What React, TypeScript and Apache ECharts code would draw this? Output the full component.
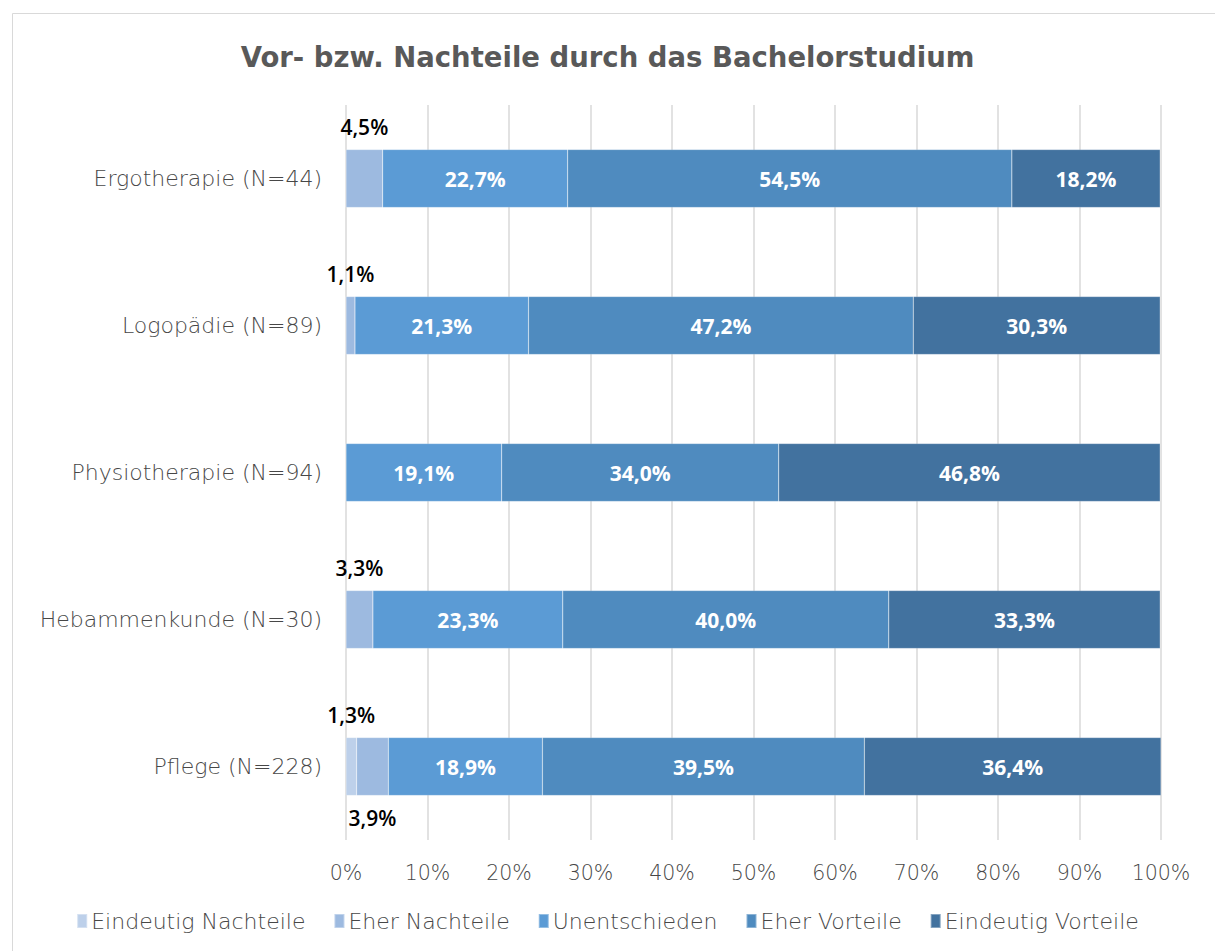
import React, { useEffect, useRef } from "react";
import * as echarts from "echarts";

const categories = [
  "Ergotherapie (N=44)",
  "Logopädie (N=89)",
  "Physiotherapie (N=94)",
  "Hebammenkunde (N=30)",
  "Pflege (N=228)",
];
const seriesNames = [
  "Eindeutig Nachteile",
  "Eher Nachteile",
  "Unentschieden",
  "Eher Vorteile",
  "Eindeutig Vorteile",
];
const eindeutigNachteile = [0, 0, 0, 0, 1.3];
const eherNachteile = [4.5, 1.1, 0, 3.3, 3.9];
const unentschieden = [22.7, 21.3, 19.1, 23.3, 18.9];
const eherVorteile = [54.5, 47.2, 34.0, 40.0, 39.5];
const eindeutigVorteile = [18.2, 30.3, 46.8, 33.3, 36.4];
const colors = ["#BDD0EA", "#9DBAE0", "#5B9BD5", "#4F8BBF", "#42729F"];
// positions of the small outside labels per series (top/bottom)
const smallLabelPos: Record<number, string[]> = {
  0: ["top", "top", "top", "top", "top"],
  1: ["top", "top", "top", "top", "bottom"],
};

const fmt = (v: number) => v.toFixed(1).replace(".", ",") + "%";
const FONT = "'DejaVu Sans', sans-serif";
const LFONT = "'Open Sans', sans-serif";
const TXT = "#474747";

export default function App() {
  const ref = useRef<HTMLDivElement>(null);
  useEffect(() => {
    if (!ref.current) return;
    const chart = echarts.init(ref.current, null, { renderer: "svg" });
    const all = [eindeutigNachteile, eherNachteile, unentschieden, eherVorteile, eindeutigVorteile];
    const series = all.map((arr, si) => {
      const small = si <= 1;
      return {
        name: seriesNames[si],
        type: "bar",
        stack: "total",
        barWidth: 58,
        itemStyle: { color: colors[si], borderColor: "rgba(255,255,255,0.35)", borderWidth: 0.5 },
        data: arr.map((v, i) => ({
          value: v,
          label: {
            show: v > 0,
            position: small ? smallLabelPos[si][i] : "inside",
            distance: 12,
            color: small ? "#000000" : "#ffffff",
            fontWeight: small ? 600 : "bold",
            fontSize: 21,
            fontFamily: LFONT,
            formatter: () => fmt(v),
          },
        })),
      };
    });
    chart.setOption({
      animation: false,
      backgroundColor: "#ffffff",
      title: {
        text: "Vor- bzw. Nachteile durch das Bachelorstudium",
        left: "center",
        top: 38,
        textStyle: { color: "#595959", fontSize: 27.5, fontWeight: "bold", fontFamily: FONT },
      },
      graphic: [
        {
          type: "rect",
          shape: { x: 12.5, y: 13.5, width: 1215, height: 960 },
          style: { fill: "none", stroke: "#d9d9d9", lineWidth: 1 },
          silent: true,
        },
      ],
      legend: {
        bottom: 14,
        left: "center",
        itemWidth: 10,
        itemHeight: 14,
        itemGap: 28,
        icon: "rect",
        textStyle: { color: TXT, fontSize: 22, fontWeight: 200, fontFamily: FONT, padding: [0, 0, 0, -1] },
        data: seriesNames,
      },
      grid: { left: 346, right: 54, top: 105, bottom: 111, containLabel: false },
      xAxis: {
        type: "value",
        min: 0,
        max: 100,
        interval: 10,
        axisLabel: { formatter: "{value}%", color: TXT, fontSize: 20.5, fontWeight: 200, fontFamily: FONT, margin: 22 },
        splitLine: { show: true, lineStyle: { color: "#d9d9d9", width: 1.5 } },
        axisLine: { show: false },
        axisTick: { show: false },
      },
      yAxis: {
        type: "category",
        inverse: true,
        data: categories,
        axisLabel: { color: TXT, fontSize: 22, fontWeight: 200, fontFamily: FONT, margin: 24 },
        axisLine: { show: false },
        axisTick: { show: false },
      },
      series,
    });
    return () => chart.dispose();
  }, []);
  return (
    <div
      ref={ref}
      style={{ position: "fixed", left: 0, top: 0, width: 1215, height: 951 }}
    />
  );
}
